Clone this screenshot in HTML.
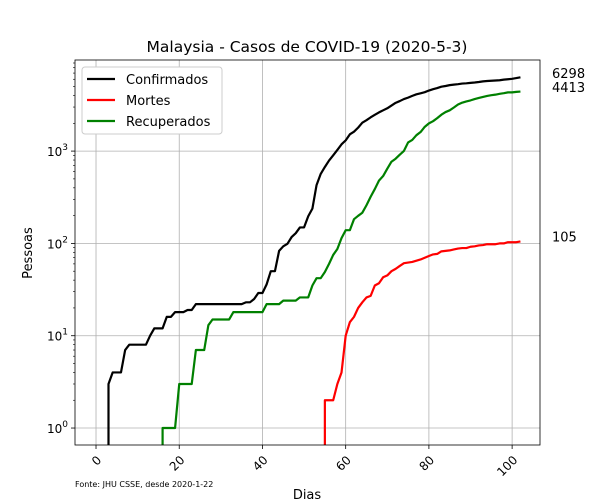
<!DOCTYPE html>
<html><head><meta charset="utf-8"><style>
body{margin:0;background:#fff}
svg{display:block;font-family:"DejaVu Sans","Liberation Sans",sans-serif}
</style></head><body>
<svg id="chart" width="600" height="500"></svg>
<script>
const days=[];for(let i=0;i<=102;i++)days.push(i);
const confirmed=[0,0,0,3,4,4,4,7,8,8,
8,8,8,10,12,12,12,16,16,18,18,18,19,19,22,22,22,22,22,22,22,22,22,22,22,22,23,23,25,
29,29,36,50,50,83,93,99,117,129,149,149,197,238,428,566,673,790,900,1030,1183,1306,1518,1624,1796,2031,2161,2320,2470,2626,2766,
2908,3116,3333,3483,3662,3793,3963,4119,4228,4346,4530,4683,4817,4987,5072,5182,5251,5305,5389,5425,5482,5532,5603,5691,5742,5780,5820,5851,5945,6002,
6071,6176,6298];
const deaths=new Array(55).fill(0).concat([2,2,2,3,4,10,14,16,20,23,26,27,35,37,43,
45,50,53,57,61,62,63,65,67,70,73,76,77,82,83,84,86,88,89,89,92,93,95,96,98,98,98,100,100,103,
103,103,105]);
const recovered=new Array(16).fill(0).concat([1,1,1,1,3,3,3,3,7,7,7,13,15,15,15,15,15,18,18,18,18,18,18,
18,18,22,22,22,22,24,24,24,24,26,26,26,35,42,42,49,60,75,87,114,139,139,183,199,215,259,320,388,479,537,
645,767,827,915,1005,1241,1321,1487,1608,1830,1995,2108,2276,2478,2647,2766,2967,3197,3349,3452,3542,3663,3762,3862,3957,4032,4087,4171,4236,4326,
4326,4380,4413]);
const xTicks=[0,20,40,60,80,100];
const yTicks=[0,1,2,3];
const seriesNames=["Confirmados","Mortes","Recuperados"];
const seriesColors=["#000","#f00","#008000"];

const L=75,R=540,T=60,B=445;
const xMin=-5.05,xMax=106.7,yMin=Math.log10(0.655),yMax=Math.log10(9700);
const X=d=>L+(d-xMin)/(xMax-xMin)*(R-L);
const Y=v=>B-(Math.log10(v)-yMin)/(yMax-yMin)*(B-T);
const svg=document.getElementById('chart');
const NS='http://www.w3.org/2000/svg';
function mk(tag,attrs,parent){const e=document.createElementNS(NS,tag);for(const k in attrs)e.setAttribute(k,attrs[k]);(parent||svg).appendChild(e);return e;}
function txt(s,attrs){const e=mk('text',attrs);e.textContent=s;return e;}

xTicks.forEach(t=>{
  const g=mk('line',{x1:X(t),x2:X(t),y1:T,y2:B,stroke:'#b0b0b0','stroke-width':0.8});
  
  
  const tk=mk('line',{x1:X(t),x2:X(t),y1:B,y2:B+4,stroke:'#000','stroke-width':0.8});
  
  
  const lb=txt(String(t),{x:X(t),y:B+15,'font-size':12,'text-anchor':'end',transform:`rotate(-45 ${X(t)+4} ${B+8})`});
  
  
});
yTicks.forEach(p=>{
  const y=Y(Math.pow(10,p));
  const g=mk('line',{x1:L,x2:R,y1:y,y2:y,stroke:'#b0b0b0','stroke-width':0.8});
  
  
  const tk=mk('line',{x1:L-4,x2:L,y1:y,y2:y,stroke:'#000','stroke-width':0.8});
  
  
  const lb=mk('text',{x:L-7,y:y+5,'font-size':12,'text-anchor':'end'});
  lb.innerHTML='10<tspan dy="-6" font-size="9">'+p+'</tspan>';
  
  
  for(let m=2;m<10;m++){const v=m*Math.pow(10,p);if(v>Math.pow(10,yMax))break;const yy=Y(v);
    const mt=mk('line',{x1:L-2,x2:L,y1:yy,y2:yy,stroke:'#000','stroke-width':0.6});
    
    }
});
const cp=mk('clipPath',{id:'c'});mk('rect',{x:L,y:T,width:R-L,height:B-T},cp);
const all=[confirmed,deaths,recovered];
all.forEach((s,i)=>{
  let d='';let started=false;
  s.forEach((v,k)=>{
    if(v<=0){started=false;return;}
    if(!started){d+=`M${X(days[k])},${B+20}L${X(days[k])},${Y(v)}`;started=true;}
    else d+=`L${X(days[k])},${Y(v)}`;
  });
  const p=mk('path',{d,fill:'none',stroke:seriesColors[i],'stroke-width':2.2,'clip-path':'url(#c)','stroke-linejoin':'round'});
  
  
  const last=s[s.length-1];
  const a=txt(String(last),{x:552,y:Y(last),'font-size':13});
  
  
});
svg.querySelectorAll('text').forEach(t=>{if(t.textContent==='6298')t.setAttribute('y',78);if(t.textContent==='4413')t.setAttribute('y',92);});
const fr=mk('rect',{x:L,y:T,width:R-L,height:B-T,fill:'none',stroke:'#000','stroke-width':0.8});


const lg=mk('rect',{x:82,y:67,width:140,height:67,fill:'#fff',stroke:'#ccc',rx:3});


seriesNames.forEach((n,i)=>{
  const y=79+i*21;
  const l=mk('line',{x1:87,x2:115,y1:y,y2:y,stroke:seriesColors[i],'stroke-width':2.2});
  
  
  const t=txt(n,{x:126,y:y+5,'font-size':13});
  
  
});
const ti=txt('Malaysia - Casos de COVID-19 (2020-5-3)',{x:307,y:52,'font-size':15.5,'text-anchor':'middle'});


const xl=txt('Dias',{x:307,y:499,'font-size':13,'text-anchor':'middle'});


const yl=txt('Pessoas',{x:32,y:253,'font-size':13,'text-anchor':'middle',transform:'rotate(-90 32 253)'});


const src=txt('Fonte: JHU CSSE, desde 2020-1-22',{x:75,y:487,'font-size':8});


</script>
</body></html>
